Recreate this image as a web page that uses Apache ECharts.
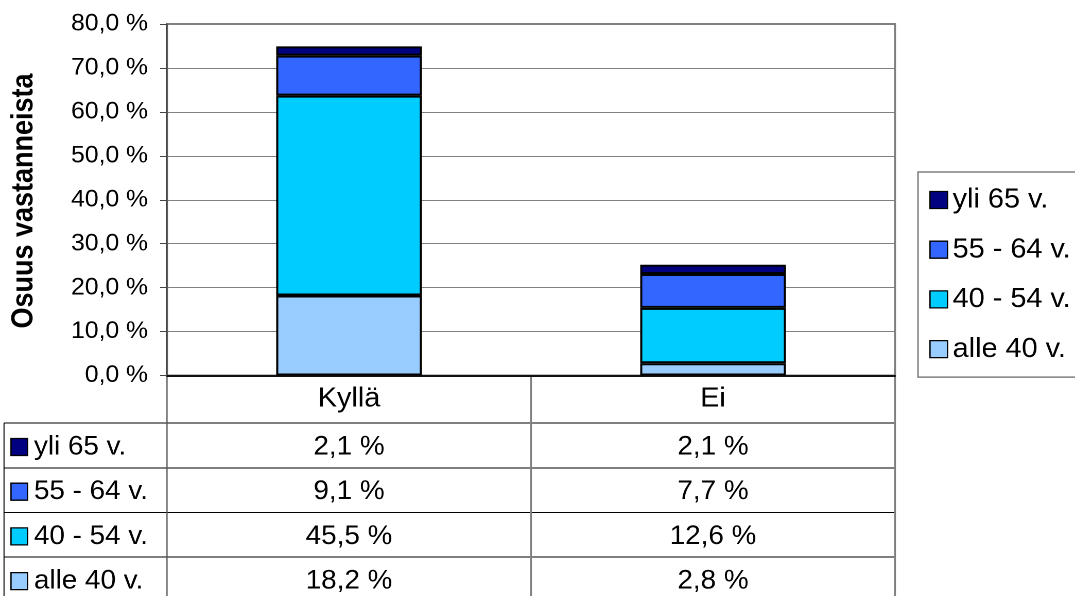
<!DOCTYPE html>
<html lang="fi">
<head>
    <meta charset="UTF-8">
    <title>Osuus vastanneista</title>
    <style>
        html,body{margin:0;padding:0;width:1075px;height:596px;overflow:hidden;background:#fff;}
        /* the reference is slightly stretched horizontally, so the chart is drawn narrower and scaled */
        #chart{width:1044px;height:596px;transform:scaleX(1.0297);transform-origin:0 0;}
    </style>
    <script src="https://cdn.jsdelivr.net/npm/echarts@6/dist/echarts.min.js"></script>
</head>
<body>
<div id="chart"></div>
<script>
    // data
    const categories = ['Kyllä', 'Ei'];
    const seriesNames = ['alle 40 v.', '40 - 54 v.', '55 - 64 v.', 'yli 65 v.'];
    const alle40 = [18.2, 2.8];
    const v40_54 = [45.5, 12.6];
    const v55_64 = [9.1, 7.7];
    const yli65 = [2.1, 2.1];
    const seriesValues = [alle40, v40_54, v55_64, yli65];
    const yMin = 0, yMax = 80, yStep = 10;

    const colors = ['#99CCFF', '#00CCFF', '#3366FF', '#000080'];
    const FONT = "'Liberation Sans', Arial, sans-serif";

    // layout, unscaled px (reference x divided by S)
    const W = 1044;
    const S = 1075 / W;
    const gLeft = 167 / S, gRight = 895 / S, gTop = 24, gBottom = 375.5;
    const tLeft = 4 / S;
    const rowLines = [423, 468, 512.5, 557];
    const rowH = 44.7;

    function pct(v) {
        return v.toFixed(1).replace('.', ',') + ' %';
    }

    function tableGraphics() {
        let els = [];
        let catW = (gRight - gLeft) / categories.length;
        // horizontal lines
        rowLines.forEach(function (y) {
            els.push({type: 'line', shape: {x1: tLeft, y1: y, x2: gRight, y2: y},
                style: {stroke: '#000', lineWidth: 1}, silent: true});
        });
        // vertical lines
        els.push({type: 'line', shape: {x1: tLeft, y1: rowLines[0], x2: tLeft, y2: 600},
            style: {stroke: '#000', lineWidth: 1}});
        els.push({type: 'line', shape: {x1: gLeft, y1: gBottom, x2: gLeft, y2: 600},
            style: {stroke: '#555', lineWidth: 1.2}});
        for (let i = 1; i <= categories.length; i++) {
            let x = gLeft + i * catW;
            els.push({type: 'line', shape: {x1: x, y1: gBottom, x2: x, y2: 600},
                style: {stroke: '#808080', lineWidth: 1.8}});
        }
        // rows: top one is the last series
        for (let r = 0; r < seriesNames.length; r++) {
            let s = seriesNames.length - 1 - r;
            let cy = rowLines[0] + r * rowH + 24;
            els.push({type: 'rect', shape: {x: 11 / S, y: cy - 8.5, width: 16, height: 17},
                style: {fill: colors[s], stroke: '#000', lineWidth: 1.3}});
            els.push({type: 'text', x: 34 / S, y: cy,
                style: {text: seriesNames[s], fontSize: 27, fontFamily: FONT, fill: '#000',
                    align: 'left', verticalAlign: 'middle'}});
            for (let c = 0; c < categories.length; c++) {
                els.push({type: 'text', x: gLeft + (c + 0.5) * catW, y: cy,
                    style: {text: pct(seriesValues[s][c]), fontSize: 27, fontFamily: FONT, fill: '#000',
                        align: 'center', verticalAlign: 'middle'}});
            }
        }
        // axis title
        els.push({type: 'text', x: 24 / S, y: 201, rotation: Math.PI / 2, scaleY: 1.1,
            style: {text: 'Osuus vastanneista', fontSize: 27, fontWeight: 'bold', fontFamily: FONT,
                fill: '#000', align: 'center', verticalAlign: 'middle'}});
        return els;
    }

    let myChart = echarts.init(document.getElementById('chart'), null, {devicePixelRatio: 2});
    let option = {
        animation: false,
        backgroundColor: '#fff',
        textStyle: {fontFamily: FONT},
        grid: {
            left: gLeft, right: W - gRight, top: gTop, bottom: 596 - gBottom,
            show: true, borderColor: '#808080', borderWidth: 2, backgroundColor: '#fff'
        },
        legend: {
            orient: 'vertical',
            left: 918 / S, top: 172,
            padding: [14, 80, 14, 11],
            icon: 'rect',
            itemWidth: 17, itemHeight: 17, itemGap: 21.7,
            borderColor: '#808080', borderWidth: 1.5,
            backgroundColor: '#fff',
            selectedMode: false,
            data: seriesNames.slice().reverse(),
            itemStyle: {borderColor: '#000', borderWidth: 1.3},
            textStyle: {fontSize: 28, lineHeight: 28, color: '#000', fontFamily: FONT}
        },
        xAxis: {
            type: 'category',
            data: categories,
            axisTick: {show: false},
            axisLine: {lineStyle: {color: '#111', width: 2}},
            axisLabel: {fontSize: 28, color: '#000', margin: 9.5, fontFamily: FONT},
            splitLine: {show: false}
        },
        yAxis: {
            type: 'value',
            min: yMin, max: yMax, interval: yStep,
            axisLine: {show: true, lineStyle: {color: '#444', width: 1.5}},
            axisTick: {show: true, length: 7 / S, lineStyle: {color: '#444', width: 1}},
            axisLabel: {fontSize: 24, color: '#000', margin: 19 / S, fontFamily: FONT,
                formatter: function (v) { return pct(v); }},
            splitLine: {lineStyle: {color: '#808080', width: 1}}
        },
        series: seriesNames.map(function (name, i) {
            return {
                name: name,
                type: 'bar',
                stack: 'total',
                barWidth: '40%',
                itemStyle: {color: colors[i], borderColor: '#000', borderWidth: 2},
                data: seriesValues[i]
            };
        }),
        graphic: tableGraphics()
    };
    myChart.setOption(option);
</script>
</body>
</html>
